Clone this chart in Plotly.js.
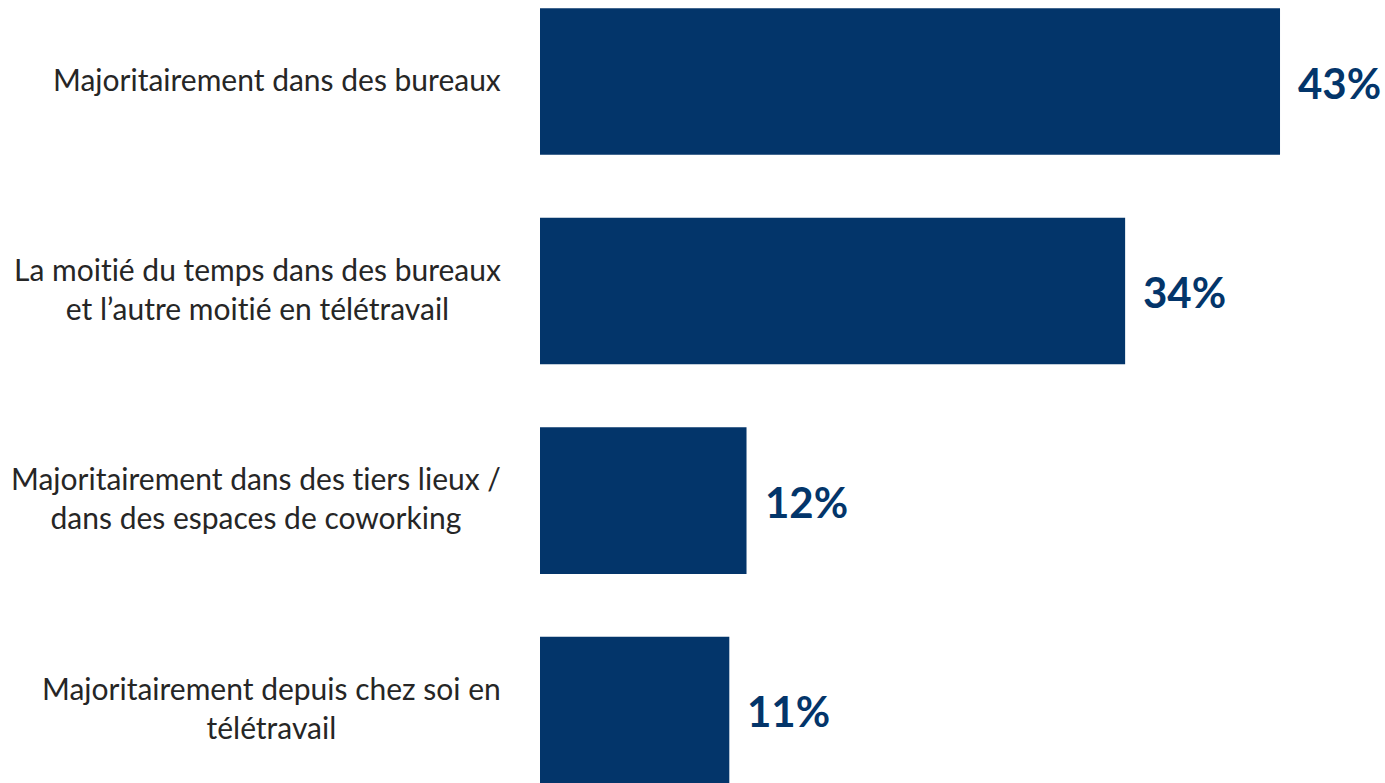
<!DOCTYPE html>
<html>
<head>
<meta charset="utf-8">
<script src="https://cdn.plot.ly/plotly-3.0.1.min.js"></script>
<style>html,body{margin:0;padding:0;background:#fff;}#chart{width:1385px;height:783px;}
text, tspan{font-variant-ligatures:none !important;font-feature-settings:"liga" 0,"clig" 0,"calt" 0,"dlig" 0 !important;}</style>
</head>
<body>
<div id="chart"></div>
<script>
const categories = [
  "Majoritairement dans des bureaux",
  "La moitié du temps dans des bureaux<br>et l’autre moitié en télétravail",
  "Majoritairement dans des tiers lieux /<br>dans des espaces de coworking",
  "Majoritairement depuis chez soi en<br>télétravail"
];
const values = [43, 34, 12, 11];
const valueLabels = ["43%", "34%", "12%", "11%"];

const navy = "#03356a";
const idx = categories.map((c, i) => i);

const trace = {
  type: "bar",
  orientation: "h",
  x: values,
  y: idx,
  marker: {color: navy, line: {width: 0}},
  hoverinfo: "none",
  width: 0.70
};

const annotations = [];
categories.forEach((c, i) => {
  annotations.push({
    x: 0, y: i, xref: "x", yref: "y",
    text: c, showarrow: false,
    xanchor: "right", yanchor: "middle", align: "center",
    xshift: -37, yshift: 3,
    font: {family: "Lato, 'Open Sans', sans-serif", size: 30, color: "#262626"}
  });
  annotations.push({
    x: values[i], y: i, xref: "x", yref: "y",
    text: "<b>" + valueLabels[i] + "</b>", showarrow: false,
    xanchor: "left", yanchor: "middle",
    xshift: 16, yshift: -1,
    font: {family: "Lato, 'Open Sans', sans-serif", size: 42, color: navy}
  });
});

const layout = {
  width: 1385, height: 783,
  margin: {l: 540, r: 0, t: 0, b: 0, pad: 0},
  paper_bgcolor: "#ffffff", plot_bgcolor: "#ffffff",
  showlegend: false,
  xaxis: {range: [0, 49.10], visible: false, fixedrange: true},
  yaxis: {range: [3.348, -0.389], visible: false, fixedrange: true},
  annotations: annotations
};

Plotly.newPlot("chart", [trace], layout, {displayModeBar: false, staticPlot: true});
</script>
</body>
</html>
